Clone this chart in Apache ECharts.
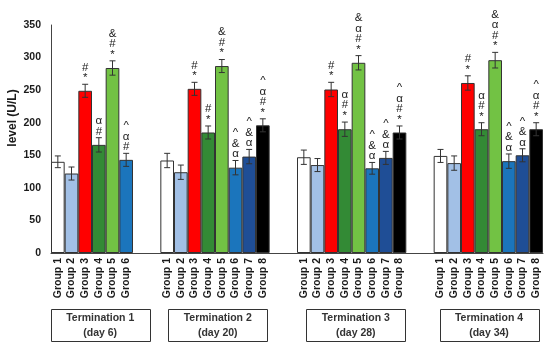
<!DOCTYPE html>
<html>
<head>
<meta charset="utf-8">
<script src="https://cdn.jsdelivr.net/npm/echarts@6/dist/echarts.min.js"></script>
<style>
html,body{margin:0;padding:0;background:#fff;}
#chart{width:550px;height:346px;}
</style>
</head>
<body>
<div id="chart"></div>
<script>
// ---- data ----
var terminations = ['Termination 1', 'Termination 2', 'Termination 3', 'Termination 4'];
var days = ['(day 6)', '(day 20)', '(day 28)', '(day 34)'];
var groupNames = ['Group 1', 'Group 2', 'Group 3', 'Group 4', 'Group 5', 'Group 6', 'Group 7', 'Group 8'];
var yTicks = [0, 50, 100, 150, 200, 250, 300, 350];

var t1Values = [140, 122, 249, 166, 284, 143];
var t2Values = [142, 124, 252, 185, 287, 131, 148, 196];
var t3Values = [147, 135, 251, 190, 292, 130, 146, 185];
var t4Values = [149, 138, 261, 190, 296, 141, 150, 190];

var t1Errors = [9, 10, 10, 11, 11, 10];
var t2Errors = [11, 11, 10, 10, 10, 11, 11, 10];
var t3Errors = [11, 10, 11, 11, 11, 9, 10, 10];
var t4Errors = [10, 11, 11, 10, 12, 11, 10, 10];

var t1Marks = ['', '', '#\n*', 'α\n#', '&\n#\n*', '^\nα\n#'];
var t2Marks = ['', '', '#\n*', '#\n*', '&\n#\n*', '^\n&\nα', '^\n&\nα', '^\nα\n#\n*'];
var t3Marks = ['', '', '#\n*', 'α\n#\n*', '&\nα\n#\n*', '^\n&\nα', '^\n&\nα', '^\nα\n#\n*'];
var t4Marks = ['', '', '#\n*', 'α\n#\n*', '&\nα\n#\n*', '^\n&\nα', '^\n&\nα', '^\nα\n#\n*'];

// ---- styles / layout ----
var groupColors = ['#ffffff', '#a2c0e6', '#ff0000', '#338a35', '#72c244', '#1b75bc', '#1f4e96', '#000000'];
var gapSlots = 2;
var boxShift = [0.6, 0.2, 0.3, 0.05]; // box centre offset (in category slots) from group centre
var FONT = '"Liberation Sans", Arial, sans-serif';

// ---- build category axis with blank gap slots ----
var allValues = [t1Values, t2Values, t3Values, t4Values];
var allErrors = [t1Errors, t2Errors, t3Errors, t4Errors];
var allMarks = [t1Marks, t2Marks, t3Marks, t4Marks];

var categories = [], barData = [], errData = [], markText = [], groupRanges = [];
allValues.forEach(function (vals, t) {
  if (t > 0) {
    for (var g = 0; g < gapSlots; g++) {
      categories.push('gap' + t + '_' + g);
      barData.push(null);
    }
  }
  var start = categories.length;
  vals.forEach(function (v, i) {
    var idx = categories.length;
    categories.push('T' + (t + 1) + '|' + groupNames[i]);
    barData.push({ value: v, itemStyle: { color: groupColors[i] } });
    errData.push([idx, v, allErrors[t][i]]);
    markText.push(allMarks[t][i]);
  });
  groupRanges.push([start, categories.length - 1]);
});

var chart = echarts.init(document.getElementById('chart'), null, { renderer: 'canvas' });

var option = {
  animation: false,
  backgroundColor: '#ffffff',
  grid: { left: 51, right: 7, top: 25, bottom: 93 },
  xAxis: {
    type: 'category',
    data: categories,
    axisLine: { show: true, lineStyle: { color: '#444', width: 1 } },
    axisTick: { show: false },
    axisLabel: {
      interval: 0,
      rotate: 90,
      margin: 5,
      fontFamily: FONT,
      fontWeight: 'bold',
      fontSize: 10.5,
      color: '#1a1a1a',
      formatter: function (v) { return v.indexOf('|') >= 0 ? v.split('|')[1] : ''; }
    }
  },
  yAxis: {
    type: 'value',
    min: yTicks[0],
    max: yTicks[yTicks.length - 1],
    interval: yTicks[1] - yTicks[0],
    splitLine: { show: false },
    axisLine: { show: true, lineStyle: { color: '#444', width: 1 } },
    axisTick: { show: false },
    axisLabel: { margin: 10, fontFamily: FONT, fontWeight: 'bold', fontSize: 10.5, color: '#1a1a1a' }
  },
  series: [
    {
      type: 'bar',
      data: barData,
      barWidth: '100%',
      barGap: '0%',
      itemStyle: { borderColor: '#333', borderWidth: 1 }
    },
    {
      type: 'custom',
      data: errData,
      z: 5,
      renderItem: function (params, api) {
        var x = api.value(0), v = api.value(1), e = api.value(2);
        var hi = api.coord([x, v + e]);
        var lo = api.coord([x, v - e]);
        var cap = 3;
        var children = [
          { type: 'line', shape: { x1: hi[0], y1: hi[1], x2: lo[0], y2: lo[1] }, style: { stroke: '#333', lineWidth: 1 } },
          { type: 'line', shape: { x1: hi[0] - cap, y1: hi[1], x2: hi[0] + cap, y2: hi[1] }, style: { stroke: '#333', lineWidth: 1 } },
          { type: 'line', shape: { x1: lo[0] - cap, y1: lo[1], x2: lo[0] + cap, y2: lo[1] }, style: { stroke: '#333', lineWidth: 1 } }
        ];
        var txt = markText[params.dataIndex];
        if (txt) {
          children.push({
            type: 'text',
            style: {
              text: txt, x: hi[0], y: hi[1] - 1,
              align: 'center', verticalAlign: 'bottom',
              font: '11.5px "Liberation Sans", sans-serif',
              lineHeight: 10.5,
              fill: '#222'
            }
          });
        }
        return { type: 'group', children: children };
      }
    }
  ]
};
chart.setOption(option);

// ---- termination boxes below the axis, placed from the axis scale ----
function xPix(i) { return chart.convertToPixel({ xAxisIndex: 0 }, i); }
var slot = xPix(1) - xPix(0);
var graphics = [];
groupRanges.forEach(function (r, t) {
  var cx = (xPix(r[0]) + xPix(r[1])) / 2 + boxShift[t] * slot;
  var w = 99, top = 309, h = 32;
  graphics.push({
    type: 'rect',
    shape: { x: Math.round(cx - w / 2) + 0.5, y: top + 0.5, width: w, height: h },
    style: { fill: '#fff', stroke: '#333', lineWidth: 1 }
  });
  graphics.push({
    type: 'text',
    style: { text: terminations[t], x: cx, y: top + 9, align: 'center', verticalAlign: 'middle',
      font: 'bold 10.5px ' + FONT, fill: '#333' }
  });
  graphics.push({
    type: 'text',
    style: { text: days[t], x: cx, y: top + 24, align: 'center', verticalAlign: 'middle',
      font: 'bold 10.5px ' + FONT, fill: '#333' }
  });
});
graphics.push({
  type: 'text',
  rotation: Math.PI / 2,
  x: 13, y: 118,
  style: { text: 'level (U/L)', x: 0, y: 0, align: 'center', verticalAlign: 'middle',
    font: 'bold 12px ' + FONT, fill: '#1a1a1a' }
});
chart.setOption({ graphic: graphics });
</script>
</body>
</html>
